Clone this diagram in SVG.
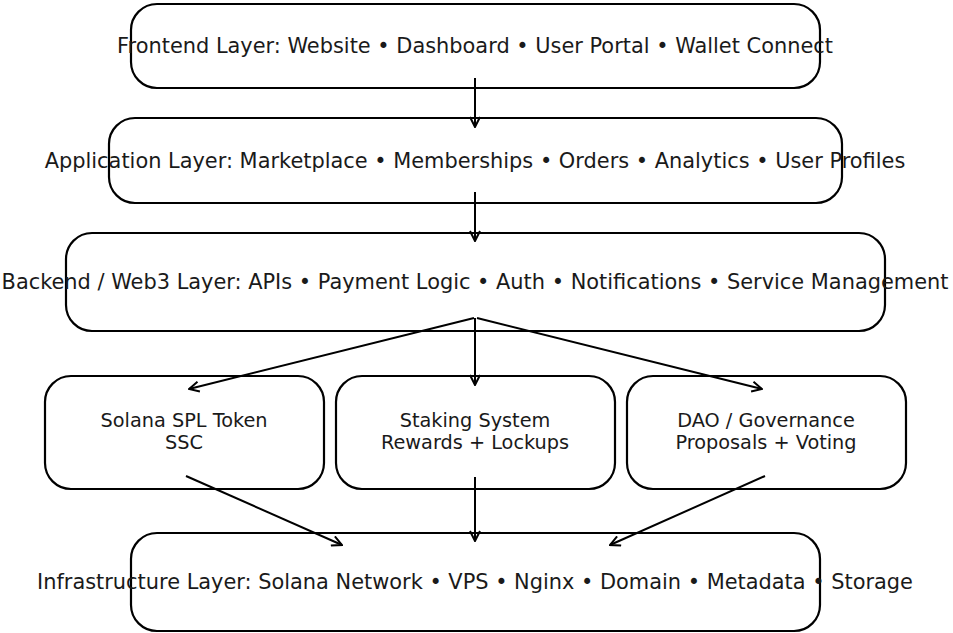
<svg xmlns="http://www.w3.org/2000/svg" width="953" height="633" viewBox="0 0 953 633">
<defs>
<style>
.box{fill:#fff;stroke:#000;stroke-width:2.2}
.t{font-family:"DejaVu Sans",sans-serif;font-size:20.9px;fill:#1a1a1a;text-anchor:middle}
.s{font-family:"DejaVu Sans",sans-serif;font-size:19.3px;fill:#1a1a1a;text-anchor:middle}
.c{stroke:#000;stroke-width:2;fill:none;marker-end:url(#ah)}
</style>
<marker id="ah" viewBox="0 0 12 12" refX="11" refY="6" markerWidth="12" markerHeight="12" markerUnits="userSpaceOnUse" orient="auto">
<path d="M1,1 L11,6 L1,11" fill="none" stroke="#000" stroke-width="2"/>
</marker>
</defs>
<rect width="953" height="633" fill="#fff"/>
<g id="frontend"><rect class="box" x="131" y="4" width="689" height="84" rx="26"/><text class="t" x="475" y="52.5">Frontend Layer: Website • Dashboard • User Portal • Wallet Connect</text></g>
<g id="application"><rect class="box" x="109" y="118" width="733" height="85" rx="26"/><text class="t" x="475" y="167.5">Application Layer: Marketplace • Memberships • Orders • Analytics • User Profiles</text></g>
<g id="backend"><rect class="box" x="66" y="233" width="819" height="98" rx="26"/><text class="t" x="475" y="288.5">Backend / Web3 Layer: APIs • Payment Logic • Auth • Notifications • Service Management</text></g>
<g id="spl"><rect class="box" x="45" y="376" width="279" height="113" rx="26"/><text class="s" x="184" y="427">Solana SPL Token</text><text class="s" x="184" y="449">SSC</text></g>
<g id="staking"><rect class="box" x="336" y="376" width="279" height="113" rx="26"/><text class="s" x="475" y="427">Staking System</text><text class="s" x="475" y="449">Rewards + Lockups</text></g>
<g id="dao"><rect class="box" x="627" y="376" width="279" height="113" rx="26"/><text class="s" x="766" y="427">DAO / Governance</text><text class="s" x="766" y="449">Proposals + Voting</text></g>
<g id="infra"><rect class="box" x="131" y="533" width="689" height="98" rx="26"/><text class="t" x="475" y="588.5">Infrastructure Layer: Solana Network • VPS • Nginx • Domain • Metadata • Storage</text></g>
<g id="connectors">
<line class="c" x1="475" y1="78" x2="475" y2="127"/>
<line class="c" x1="475" y1="192" x2="475" y2="241"/>
<line class="c" x1="474" y1="318" x2="189" y2="389"/>
<line class="c" x1="475" y1="318" x2="475" y2="385"/>
<line class="c" x1="477" y1="318" x2="762" y2="389"/>
<line class="c" x1="186" y1="476" x2="342" y2="545"/>
<line class="c" x1="475" y1="477" x2="475" y2="541"/>
<line class="c" x1="765" y1="476" x2="610" y2="545"/>
</g>
</svg>
